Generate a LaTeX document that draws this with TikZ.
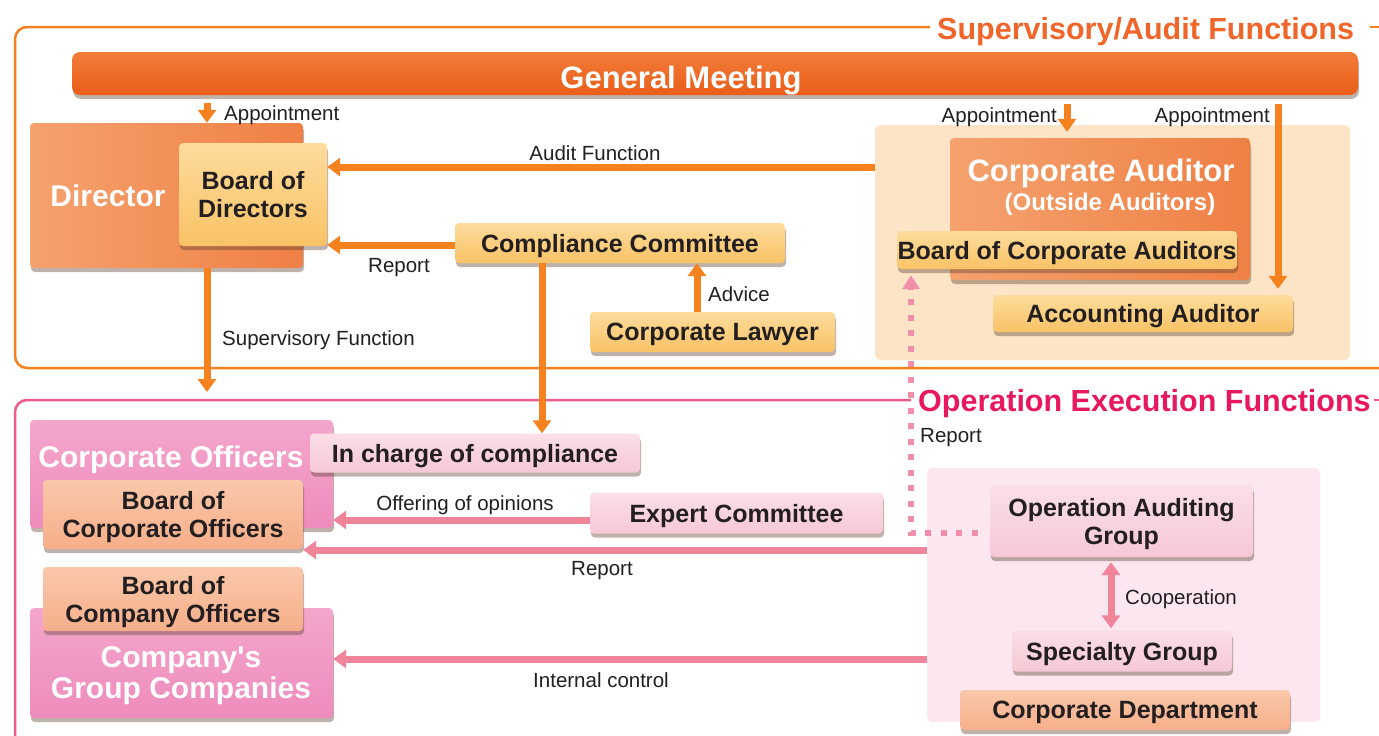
\documentclass[tikz,border=0pt]{standalone}
\usepackage{fontspec}
\setmainfont{Liberation Sans}
\usetikzlibrary{arrows.meta,shadows}

\definecolor{ink}{HTML}{231F20}
\definecolor{orgline}{HTML}{F5821F}
\definecolor{orgtitle}{HTML}{F0662A}
\definecolor{pkline}{HTML}{EE5C8A}
\definecolor{pktitle}{HTML}{E8185E}
\definecolor{pkarrow}{HTML}{F0859A}
\definecolor{pkdot}{HTML}{F08FA8}
\definecolor{gmT}{HTML}{F27C3A}
\definecolor{gmB}{HTML}{EA5E18}
\definecolor{orgL}{HTML}{F5A26E}
\definecolor{orgR}{HTML}{EF8045}
\definecolor{yelT}{HTML}{FDDC9C}
\definecolor{yelB}{HTML}{F9C266}
\definecolor{pkT}{HTML}{F4A6CC}
\definecolor{pkB}{HTML}{EE8CBC}
\definecolor{salT}{HTML}{FAC8AA}
\definecolor{salB}{HTML}{F6AE8A}
\definecolor{lpkT}{HTML}{FBDFE8}
\definecolor{lpkB}{HTML}{F6C8D5}
\definecolor{peach}{HTML}{FEE4C6}
\definecolor{pkpanel}{HTML}{FCE6F0}
\definecolor{shadowc}{HTML}{5A4030}

\tikzset{
  box/.style={rectangle, rounded corners=4pt, inner sep=0pt, align=center,
    text=ink, text depth=0pt, font=\bfseries\fontsize{25}{28}\selectfont,
    drop shadow={shadow xshift=1pt, shadow yshift=-4pt, opacity=.4, fill=shadowc}},
  ybox/.style={box, top color=yelT, bottom color=yelB},
  obox/.style={box, left color=orgL, right color=orgR},
  pbox/.style={box, top color=pkT, bottom color=pkB},
  sbox/.style={box, top color=salT, bottom color=salB},
  lbox/.style={box, top color=lpkT, bottom color=lpkB},
  panel/.style={rectangle, rounded corners=6pt, inner sep=0pt},
  whitebig/.style={inner sep=0pt, align=center, text=white, text depth=0pt,
    font=\bfseries\fontsize{30}{31}\selectfont},
  lbl/.style={inner sep=0pt, text=ink, text depth=0pt, font=\fontsize{20.5}{24}\selectfont},
  title/.style={inner sep=0pt, text depth=0pt, font=\bfseries\fontsize{30.5}{32}\selectfont},
  oarrow/.style={draw=orgline, line width=7pt, -{Triangle[width=18pt,length=13pt]}},
  parrow/.style={draw=pkarrow, line width=7pt, -{Triangle[width=18pt,length=13pt]}},
  dotarrow/.style={draw=pkdot, line width=6pt, dash pattern=on 6pt off 9.5pt,
    -{Triangle[width=17pt,length=14pt]}},
}

\begin{document}
\begin{tikzpicture}[x=1pt,y=-1pt]
\useasboundingbox (0,0) rectangle (1379,736);
\fill[white] (0,0) rectangle (1379,736);

% section frames and their titles
\draw[orgline, line width=2.5pt, rounded corners=12pt] (930,27) -- (15,27) -- (15,368) -- (1379,368);
\draw[orgline, line width=2.5pt] (1370,27) -- (1379,27);
\node[title, text=orgtitle, anchor=west] (suptitle) at (937,28) {Supervisory/Audit Functions};

\draw[pkline, line width=2.5pt, rounded corners=12pt] (911,400) -- (15,400) -- (15,745);
\draw[pkline, line width=2.5pt] (1374,400) -- (1379,400);
\node[title, text=pktitle, anchor=west] (optitle) at (918,400) {Operation Execution Functions};

% background panels
\node[panel, fill=peach, minimum width=475pt, minimum height=235pt] (auditpanel) at (1112.5,242.5) {};
\node[panel, fill=pkpanel, minimum width=393pt, minimum height=254pt] (oppanel) at (1123.5,595) {};

% general meeting
\node[box, top color=gmT, bottom color=gmB, rounded corners=8pt,
      minimum width=1286pt, minimum height=43pt] (gm) at (715,73.5) {};
\node[inner sep=0pt, text=white, text depth=0pt, font=\bfseries\fontsize{31}{34}\selectfont] (gmtxt) at (681,77) {General Meeting};

% directors
\node[obox, minimum width=273pt, minimum height=145pt] (dir) at (166.5,195.5) {};
\node[whitebig] (dirtxt) at (108,196) {Director};
\node[ybox, minimum width=148pt, minimum height=103pt] (bod) at (253,194.5) {Board of\\Directors};

% compliance
\node[ybox, minimum width=330pt, minimum height=40pt] (cc) at (620,243) {Compliance Committee};
\node[ybox, minimum width=245pt, minimum height=40pt] (law) at (712.5,332) {Corporate Lawyer};

% auditors
\node[obox, minimum width=300pt, minimum height=142pt] (ca) at (1100,209) {};
\node[inner sep=0pt, text=white, text depth=0pt, font=\bfseries\fontsize{31}{34}\selectfont] (catxt) at (1101,170) {Corporate Auditor};
\node[inner sep=0pt, text=white, text depth=0pt, font=\bfseries\fontsize{24}{26}\selectfont] (caout) at (1110,202) {(Outside Auditors)};
\node[ybox, minimum width=340pt, minimum height=38pt] (bca) at (1067,250) {Board of Corporate Auditors};
\node[ybox, minimum width=300pt, minimum height=37pt] (acc) at (1143,313.5) {Accounting Auditor};

% officers
\node[pbox, minimum width=303pt, minimum height=108pt] (co) at (181.5,474) {};
\node[whitebig] (cotxt) at (171,457) {Corporate Officers};
\node[lbox, minimum width=330pt, minimum height=39pt] (inch) at (475,453) {In charge of compliance};
\node[sbox, minimum width=260pt, minimum height=69pt] (bco) at (173,514.5) {Board of\\Corporate Officers};
\node[pbox, minimum width=303pt, minimum height=110pt] (cgc) at (181.5,663) {};
\node[whitebig] (cgctxt) at (181,673) {Company\textquotesingle s\\Group Companies};
\node[sbox, minimum width=260pt, minimum height=64pt] (bcoo) at (173,599) {Board of\\Company Officers};
\node[lbox, minimum width=293pt, minimum height=41pt] (expert) at (736.5,513) {Expert Committee};

% operation groups
\node[lbox, minimum width=263pt, minimum height=72pt] (oag) at (1121.5,521) {Operation Auditing\\Group};
\node[lbox, minimum width=220pt, minimum height=41pt] (spec) at (1122,651) {Specialty Group};
\node[sbox, minimum width=330pt, minimum height=40pt] (cd) at (1125,710) {Corporate Department};

% supervisory / audit connectors
\coordinate (ap1) at (207,103);
\draw[oarrow] (ap1) -- (ap1 |- dir.north);
\node[lbl, anchor=west] (ap1txt) at (224,113) {Appointment};

\draw[oarrow] (auditpanel.west |- 0,167) -- (bod.east |- 0,167);
\node[lbl] (audtxt) at (595,153) {Audit Function};

\draw[oarrow] (cc.west |- 0,245) -- (bod.east |- 0,245);
\node[lbl] (rep1txt) at (399,265) {Report};

\coordinate (supend) at (207,392);
\draw[oarrow] (dir.south -| supend) -- (supend);
\node[lbl, anchor=west] (suptxt) at (222,338) {Supervisory Function};

\draw[oarrow] (cc.south -| 542,0) -- (inch.north -| 542,0);
\draw[oarrow] (law.north -| 697,0) -- (cc.south -| 697,0);
\node[lbl, anchor=west] (advtxt) at (708,294) {Advice};

\coordinate (ap2) at (1067,104);
\draw[oarrow, shorten >=6pt] (ap2) -- (ap2 |- ca.north);
\node[lbl, anchor=east] (ap2txt) at (1057,115) {Appointment};

\coordinate (ap3) at (1278,104);
\draw[oarrow, shorten >=6pt] (ap3) -- (ap3 |- acc.north);
\node[lbl, anchor=east] (ap3txt) at (1270,115) {Appointment};

% operation execution connectors
\draw[parrow] (expert.west |- 0,520) -- (co.east |- 0,520);
\node[lbl] (offtxt) at (465,503) {Offering of opinions};

\draw[parrow] (oppanel.west |- 0,550) -- (bco.east |- 0,550);
\node[lbl] (rep2txt) at (602,568) {Report};

\draw[parrow] (oppanel.west |- 0,659) -- (cgc.east |- 0,659);
\node[lbl] (ictxt) at (601,680) {Internal control};

\draw[draw=pkarrow, line width=7pt, {Triangle[width=18pt,length=13pt]}-{Triangle[width=18pt,length=13pt]},
      shorten <=5pt, shorten >=2pt] (oag.south -| 1111,0) -- (spec.north -| 1111,0);
\node[lbl, anchor=west] (coptxt) at (1125,597) {Cooperation};

\coordinate (rptcorner) at (911,533);
\draw[dotarrow, shorten <=12pt, shorten >=6pt] (oag.west |- rptcorner) -- (rptcorner) -- (rptcorner |- bca.south);
\node[lbl, anchor=west] (rep3txt) at (920,435) {Report};

\end{tikzpicture}
\end{document}
